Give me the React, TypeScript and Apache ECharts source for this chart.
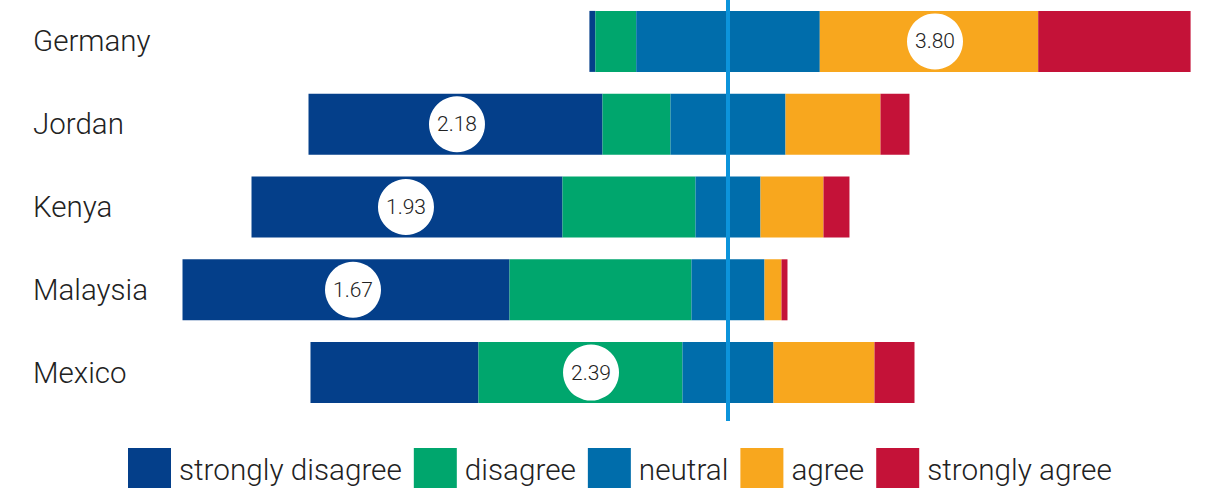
import React, { useEffect, useRef } from "react";
import * as echarts from "echarts";

const countries = ["Germany", "Jordan", "Kenya", "Malaysia", "Mexico"];
const stronglyDisagree = [1.0, 49.0, 51.83, 54.5, 28.0];
const disagree = [6.8, 11.33, 22.17, 30.33, 34.0];
const neutral = [30.6, 19.17, 10.83, 12.17, 15.17];
const agree = [36.4, 15.83, 10.5, 2.83, 16.83];
const stronglyAgree = [25.4, 4.83, 4.33, 1.0, 6.67];
const meanScores = [3.8, 2.18, 1.93, 1.67, 2.39];
// position of the mean marker, in percentage points from the neutral midpoint
const meanMarkerOffset = [34.5, -45.17, -53.67, -62.5, -22.83];

const categoryNames = ["strongly disagree", "disagree", "neutral", "agree", "strongly agree"];
const categoryColors = ["#043f8a", "#00a66d", "#006dab", "#f8a71e", "#c41238"];

const CENTER = 100;
const FONT = "Roboto, 'Noto Sans', sans-serif";

export default function App() {
  const ref = useRef<HTMLDivElement>(null);

  useEffect(() => {
    if (!ref.current) return;
    const chart = echarts.init(ref.current, undefined, { renderer: "svg" });

    const offsets = countries.map(
      (_, i) => CENTER - (stronglyDisagree[i] + disagree[i] + neutral[i] / 2)
    );
    const seriesValues = [stronglyDisagree, disagree, neutral, agree, stronglyAgree];

    const barSeries: any[] = [
      {
        name: "offset",
        type: "bar",
        stack: "total",
        barWidth: 61,
        silent: true,
        itemStyle: { color: "transparent" },
        data: offsets,
        xAxisIndex: 0,
        yAxisIndex: 0,
      },
      ...categoryNames.map((name, k) => ({
        name,
        type: "bar",
        stack: "total",
        barWidth: 61,
        itemStyle: { color: categoryColors[k] },
        data: seriesValues[k],
        xAxisIndex: 0,
        yAxisIndex: 0,
      })),
    ];

    const option: any = {
      animation: false,
      grid: [
        { left: 128, right: 10, top: -1, height: 415, containLabel: false },
        { left: 128, right: 10, top: 0, height: 421, containLabel: false },
      ],
      xAxis: [
        { type: "value", min: 0, max: 178, show: false, gridIndex: 0 },
        { type: "value", min: 0, max: 178, show: false, gridIndex: 1 },
      ],
      yAxis: [
        {
          type: "category",
          data: countries,
          inverse: true,
          gridIndex: 0,
          axisLine: { show: false },
          axisTick: { show: false },
          axisLabel: {
            align: "left",
            margin: 95,
            fontSize: 29.5,
            fontFamily: FONT,
            fontWeight: 300,
            color: "#222222",
          },
        },
        { type: "value", min: 0, max: 1, show: false, gridIndex: 1 },
      ],
      legend: {
        data: categoryNames,
        left: 128,
        top: 448,
        padding: 0,
        itemWidth: 43,
        itemHeight: 43,
        itemGap: 12,
        icon: "rect",
        textStyle: {
          fontSize: 29.7,
          fontFamily: FONT,
          fontWeight: 300,
          color: "#222222",
          padding: [0, 0, 0, 3],
        },
      },
      series: [
        ...barSeries,
        {
          name: "mean",
          type: "scatter",
          xAxisIndex: 0,
          yAxisIndex: 0,
          symbol: "circle",
          symbolSize: 56,
          z: 5,
          itemStyle: { color: "#ffffff", opacity: 1 },
          label: {
            show: true,
            position: "inside",
            fontSize: 21,
            fontFamily: FONT,
            fontWeight: 300,
            color: "#222222",
            formatter: (p: any) => meanScores[p.dataIndex].toFixed(2),
          },
          data: countries.map((c, i) => [CENTER + meanMarkerOffset[i], c]),
        },
        {
          name: "midline",
          type: "line",
          xAxisIndex: 1,
          yAxisIndex: 1,
          symbol: "none",
          z: 10,
          lineStyle: { color: "#0c94db", width: 4 },
          data: [
            [CENTER, 0],
            [CENTER, 1],
          ],
        },
      ],
    };

    chart.setOption(option);
    return () => chart.dispose();
  }, []);

  return (
    <div
      ref={ref}
      style={{ position: "fixed", left: 0, top: 0, width: 1206, height: 488, background: "#ffffff" }}
    />
  );
}
